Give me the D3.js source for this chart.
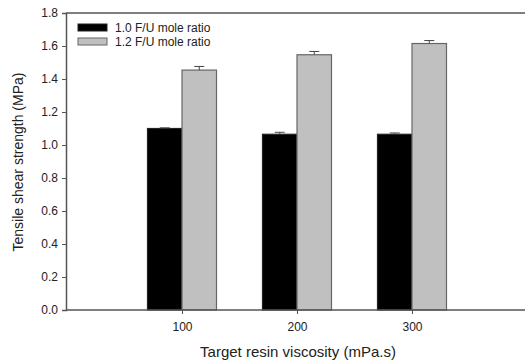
<!DOCTYPE html>
<html>
<head>
<meta charset="utf-8">
<script src="https://cdn.jsdelivr.net/npm/d3@7"></script>
<style>
  body { margin: 0; background: #fff; }
  svg { display: block; font-family: "Liberation Sans", Arial, sans-serif; }
</style>
</head>
<body>
<div id="chart"></div>
<script>
// Data
const viscosity = [100, 200, 300];
const seriesNames = ["1.0 F/U mole ratio", "1.2 F/U mole ratio"];
const ratio10 = [1.10, 1.065, 1.065];
const ratio10Err = [0.004, 0.012, 0.008];
const ratio12 = [1.454, 1.547, 1.615];
const ratio12Err = [0.022, 0.02, 0.018];
const yTicks = [0, 0.2, 0.4, 0.6, 0.8, 1.0, 1.2, 1.4, 1.6, 1.8];

const width = 525;
const height = 362;
const axisColor = "#555";

const svg = d3.select("#chart")
    .append("svg")
    .attr("width", width)
    .attr("height", height);

// Scales
const x = d3.scaleLinear().domain([0, 400]).range([67, 527]);
const y = d3.scaleLinear().domain([0, 1.8]).range([310, 13]);
const barUnits = 30; // each bar spans 30 viscosity units

const series = [
    { name: seriesNames[0], values: ratio10, errs: ratio10Err, fill: "#000", stroke: "#222", offset: -barUnits },
    { name: seriesNames[1], values: ratio12, errs: ratio12Err, fill: "#c0c0c0", stroke: "#666", offset: 0 },
];

// Top frame line
svg.append("line")
    .attr("x1", x(0) - 1).attr("x2", width)
    .attr("y1", y(1.8)).attr("y2", y(1.8))
    .attr("stroke", axisColor).attr("stroke-width", 1.5);

// Bars and error bars
series.forEach((s) => {
    const g = svg.append("g");
    g.selectAll("rect")
        .data(viscosity)
        .enter()
        .append("rect")
        .attr("x", (d) => x(d + s.offset))
        .attr("width", x(barUnits) - x(0))
        .attr("y", (d, i) => y(s.values[i]))
        .attr("height", (d, i) => y(0) - y(s.values[i]))
        .attr("fill", s.fill)
        .attr("stroke", s.stroke)
        .attr("stroke-width", 1.2);

    const err = g.selectAll(".err")
        .data(viscosity)
        .enter()
        .append("g")
        .attr("class", "err");
    err.append("line")
        .attr("x1", (d) => x(d + s.offset + barUnits / 2))
        .attr("x2", (d) => x(d + s.offset + barUnits / 2))
        .attr("y1", (d, i) => y(s.values[i]))
        .attr("y2", (d, i) => y(s.values[i] + s.errs[i]))
        .attr("stroke", "#444");
    err.append("line")
        .attr("x1", (d) => x(d + s.offset + barUnits / 2) - 5)
        .attr("x2", (d) => x(d + s.offset + barUnits / 2) + 5)
        .attr("y1", (d, i) => y(s.values[i] + s.errs[i]))
        .attr("y2", (d, i) => y(s.values[i] + s.errs[i]))
        .attr("stroke", "#444");
});

// Axes
const yAxis = svg.append("g")
    .attr("transform", `translate(${x(0) - 1},0)`)
    .call(d3.axisLeft(y).tickValues(yTicks).tickFormat(d3.format(".1f")).tickSize(4).tickPadding(4));

const xAxis = svg.append("g")
    .attr("transform", `translate(0,${y(0)})`)
    .call(d3.axisBottom(x).tickValues(viscosity).tickSize(4).tickPadding(8));

[yAxis, xAxis].forEach((a) => {
    a.select(".domain").attr("stroke", axisColor).attr("stroke-width", 1.5);
    a.selectAll(".tick line").attr("stroke", axisColor);
    a.selectAll(".tick text").attr("fill", "#222").style("font-size", "12px");
});
xAxis.select(".domain").attr("d", `M${x(0) - 1},0H${width}`);

// Axis titles
svg.append("text")
    .attr("x", 298)
    .attr("y", 357)
    .attr("text-anchor", "middle")
    .style("font-size", "15px")
    .attr("fill", "#222")
    .text("Target resin viscosity (mPa.s)");

svg.append("text")
    .attr("transform", "rotate(-90)")
    .attr("x", -162)
    .attr("y", 23)
    .attr("text-anchor", "middle")
    .style("font-size", "14px")
    .attr("fill", "#222")
    .text("Tensile shear strength (MPa)");

// Legend
const legend = svg.append("g").attr("transform", "translate(78,24)");
series.forEach((s, i) => {
    const row = legend.append("g").attr("transform", `translate(0,${i * 14})`);
    row.append("rect")
        .attr("width", 29)
        .attr("height", 7)
        .attr("fill", s.fill)
        .attr("stroke", s.stroke);
    row.append("text")
        .attr("x", 37)
        .attr("y", 8)
        .style("font-size", "12px")
        .attr("fill", "#222")
        .text(s.name);
});
</script>
</body>
</html>
